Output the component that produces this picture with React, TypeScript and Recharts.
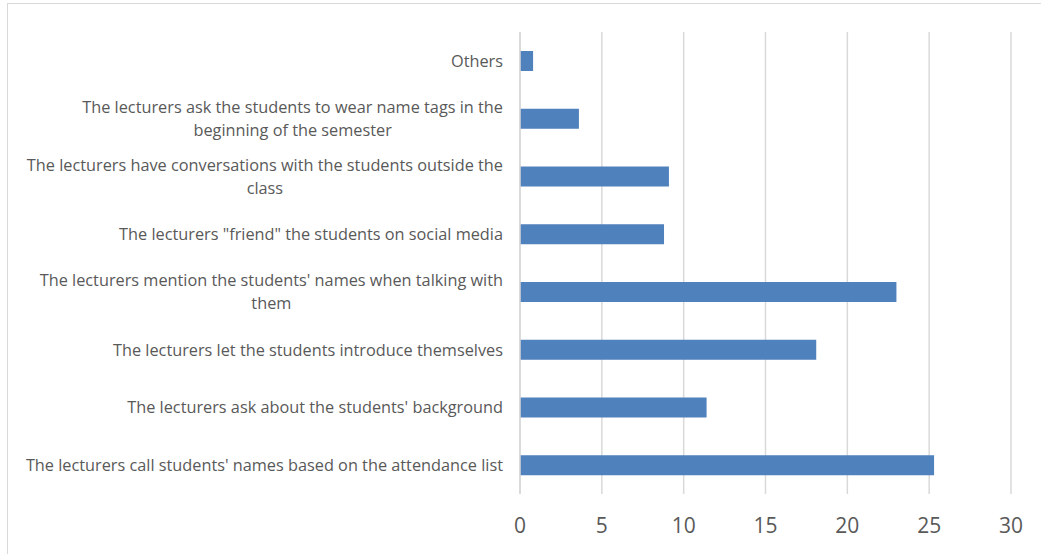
import React from "react";
import { BarChart, Bar, XAxis, YAxis, CartesianGrid } from "recharts";

const categories: string[] = [
  "Others",
  "The lecturers ask the students to wear name tags in the beginning of the semester",
  "The lecturers have conversations with the students outside the class",
  'The lecturers "friend" the students on social media',
  "The lecturers mention the students' names when talking with them",
  "The lecturers let the students introduce themselves",
  "The lecturers ask about the students' background",
  "The lecturers call students' names based on the attendance list",
];

const categoryLines: string[][] = [
  ["Others"],
  ["The lecturers ask the students to wear name tags in the", "beginning of the semester"],
  ["The lecturers have conversations with the students outside the", "class"],
  ['The lecturers "friend" the students on social media'],
  ["The lecturers mention the students' names when talking with", "them"],
  ["The lecturers let the students introduce themselves"],
  ["The lecturers ask about the students' background"],
  ["The lecturers call students' names based on the attendance list"],
];

const values: number[] = [0.8, 3.6, 9.1, 8.8, 23.0, 18.1, 11.4, 25.3];

const xTicks: number[] = [0, 5, 10, 15, 20, 25, 30];

const data = categories.map((c, i) => ({ name: c, value: values[i], idx: i }));

const LABEL_FONT = "16.3px 'Open Sans'";
const TEXT_COLOR = "#595959";

let ctx: CanvasRenderingContext2D | null = null;
function measure(s: string): number {
  if (!ctx) {
    const c = document.createElement("canvas");
    ctx = c.getContext("2d");
  }
  if (!ctx) return s.length * 7;
  ctx.font = LABEL_FONT;
  return ctx.measureText(s).width;
}

const YTick = (props: any) => {
  const { y, payload } = props;
  const i = categories.indexOf(payload.value);
  const lines = i >= 0 ? categoryLines[i] : [String(payload.value)];
  const right = 495;
  const maxW = Math.max(...lines.map(measure));
  const cx = right - maxW / 2;
  const lh = 23;
  const startY = y - ((lines.length - 1) * lh) / 2;
  return (
    <g>
      {lines.map((l, k) => (
        <text
          key={k}
          x={cx}
          y={startY + k * lh}
          textAnchor="middle"
          dominantBaseline="central"
          fill={TEXT_COLOR}
          style={{ font: LABEL_FONT }}
        >
          {l}
        </text>
      ))}
    </g>
  );
};

const XTick = (props: any) => {
  const { x, y, payload } = props;
  return (
    <text
      x={x}
      y={y + 23}
      textAnchor="middle"
      dominantBaseline="central"
      fill={TEXT_COLOR}
      style={{ fontFamily: "'Open Sans'", fontSize: 21 }}
    >
      {payload.value}
    </text>
  );
};

export default function App() {
  return (
    <div
      style={{
        position: "absolute",
        left: 7,
        top: 3,
        width: 1040,
        height: 560,
        border: "1px solid #d9d9d9",
        background: "#fff",
        boxSizing: "border-box",
      }}
    >
      <BarChart
        width={1034}
        height={551}
        data={data}
        layout="vertical"
        margin={{ top: 28, right: 31, bottom: 0, left: 0 }}
        barSize={20}
      >
        <CartesianGrid
          horizontal={false}
          vertical={true}
          stroke="#d9d9d9"
          strokeWidth={1.5}
        />
        <XAxis
          type="number"
          domain={[0, 30]}
          ticks={xTicks}
          axisLine={false}
          tickLine={false}
          height={61}
          tick={<XTick />}
          interval={0}
        />
        <YAxis
          type="category"
          dataKey="name"
          width={512}
          axisLine={{ stroke: "#d9d9d9", strokeWidth: 1.5 }}
          tickLine={false}
          tick={<YTick />}
          interval={0}
        />
        <Bar dataKey="value" fill="#4f81bd" isAnimationActive={false} />
      </BarChart>
    </div>
  );
}
